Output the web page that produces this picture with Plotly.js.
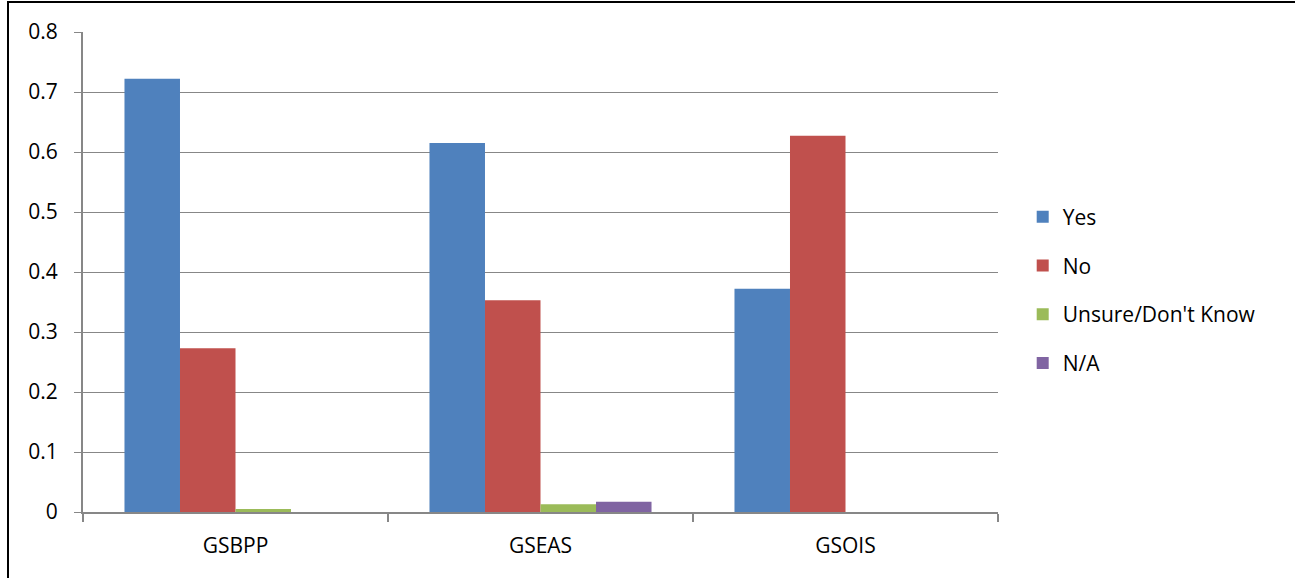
<!DOCTYPE html>
<html>
<head>
<meta charset="utf-8">
<script src="https://cdn.plot.ly/plotly-3.0.1.min.js"></script>
<style>
html,body{margin:0;padding:0;background:#fff;}
#wrap{position:relative;width:1295px;height:578px;overflow:hidden;}
#chart{width:1295px;height:578px;}
#frame{position:absolute;left:7px;top:1px;width:2000px;height:2000px;border-left:2px solid #000;border-top:2px solid #000;pointer-events:none;}
</style>
</head>
<body>
<div id="wrap"><div id="chart"></div><div id="frame"></div></div>
<script>
const categories = ["GSBPP", "GSEAS", "GSOIS"];
const yesValues = [0.722, 0.615, 0.372];
const noValues = [0.273, 0.353, 0.627];
const unsureValues = [0.005, 0.013, 0];
const naValues = [0, 0.017, 0];
const seriesNames = ["Yes", "No", "Unsure/Don't Know", "N/A"];
const seriesColors = ["#4F81BD", "#C0504D", "#9BBB59", "#8064A2"];
const yTickVals = [0, 0.1, 0.2, 0.3, 0.4, 0.5, 0.6, 0.7, 0.8];
const yTickText = ["0", "0.1", "0.2", "0.3", "0.4", "0.5", "0.6", "0.7", "0.8"];

const allValues = [yesValues, noValues, unsureValues, naValues];
const traces = allValues.map((vals, i) => ({
  type: "bar",
  name: seriesNames[i],
  x: categories,
  y: vals,
  legendgroup: "g" + i,
  marker: {color: seriesColors[i], line: {width: 0}},
  hoverinfo: "x+y+name"
}));

const gridColor = "#878787";
const fontFam = "Open Sans, sans-serif";
const layout = {
  width: 1295,
  height: 578,
  margin: {l: 83, r: 297, t: 32, b: 66},
  paper_bgcolor: "#ffffff",
  plot_bgcolor: "#ffffff",
  font: {family: fontFam, size: 21, color: "#000"},
  barmode: "group",
  bargap: 0.272,
  bargroupgap: 0,
  xaxis: {
    type: "category",
    showline: true,
    linecolor: gridColor,
    linewidth: 2,
    ticks: "outside",
    tickson: "boundaries",
    ticklen: 8,
    tickcolor: gridColor,
    tickwidth: 2,
    showgrid: false,
    zeroline: false,
    tickfont: {size: 21, family: fontFam},
    ticklabelstandoff: 14
  },
  yaxis: {
    range: [0, 0.8],
    tickvals: yTickVals,
    ticktext: yTickText,
    showline: true,
    linecolor: gridColor,
    linewidth: 2,
    ticks: "outside",
    ticklen: 7,
    tickcolor: gridColor,
    tickwidth: 1,
    showgrid: true,
    gridcolor: gridColor,
    gridwidth: 1,
    zeroline: false,
    tickfont: {size: 21, family: fontFam},
    ticklabelstandoff: 12
  },
  showlegend: true,
  legend: {
    x: 1.027,
    xanchor: "left",
    y: 0.4625,
    yanchor: "middle",
    traceorder: "grouped",
    tracegroupgap: 18.5,
    font: {size: 21, family: fontFam},
    bgcolor: "rgba(0,0,0,0)"
  }
};

Plotly.newPlot("chart", traces, layout, {displayModeBar: false, staticPlot: true});
</script>
</body>
</html>
